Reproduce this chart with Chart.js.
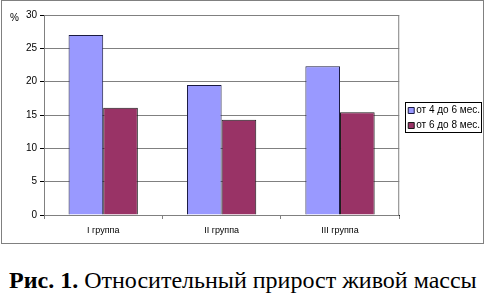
<!DOCTYPE html>
<html>
<head>
<meta charset="utf-8">
<script src="https://cdn.jsdelivr.net/npm/chart.js@4.4.1/dist/chart.umd.min.js"></script>
<style>
  body { margin: 0; background: #fff; width: 485px; height: 294px; position: relative; overflow: hidden; }
  #wrap { position: absolute; left: 0; top: 0; width: 485px; height: 246px; }
  #frame { position: absolute; left: 1px; top: 0; width: 481px; height: 242px; border: 1px solid #808080; pointer-events: none; }
  #caption { position: absolute; left: 9px; top: 268px; line-height: 24px; font-family: "Liberation Serif", "Times New Roman", serif; font-size: 24px; color: #000; white-space: nowrap; }
</style>
</head>
<body>
<div id="wrap"><canvas id="myBarChart"></canvas></div>
<div id="frame"></div>
<div id="caption"><b>Рис. 1.</b> Относительный прирост живой массы</div>
<script>
// data
var groups = ['I группа', 'II группа', 'III группа'];
var seriesNames = ['от 4 до 6 мес.', 'от 6 до 8 мес.'];
var gain4to6 = [27.0, 19.5, 22.3];
var gain6to8 = [16.1, 14.3, 15.4];
var yTicks = [0, 5, 10, 15, 20, 25, 30];

var LEGEND_PAD = 5;

// plot frame, "%" label, legend placement + border
var extrasPlugin = {
     id: 'extras',
     afterLayout: function (chart) {
          // move the legend items next to the plot, text right-aligned inside the box
          var lg = chart.legend, a = chart.chartArea;
          lg.left = a.right + 9 - LEGEND_PAD;
          lg.right = 480;
          lg.top = a.top + 6;
          lg.bottom = a.bottom;
     },
     beforeDatasetsDraw: function (chart) {
          var ctx = chart.ctx, a = chart.chartArea;
          ctx.save();
          ctx.strokeStyle = '#808080';
          ctx.lineWidth = 1;
          ctx.strokeRect(a.left + 0.5, a.top + 0.5, a.right - a.left - 1, a.bottom - a.top);
          ctx.restore();
     },
     afterDraw: function (chart) {
          var ctx = chart.ctx, a = chart.chartArea;
          ctx.save();
          ctx.fillStyle = '#000';
          ctx.font = '10px "Liberation Sans", Arial, sans-serif';
          ctx.textBaseline = 'middle';
          ctx.fillText('%', 10, a.top + 3);
          // legend border
          var boxes = chart.legend.legendHitBoxes;
          if (boxes && boxes.length) {
               var first = boxes[0], last = boxes[boxes.length - 1];
               var left = Math.round(first.left) - 2.5;
               var top = Math.round(first.top) - 3.5;
               var bottom = Math.round(last.top + last.height) + 1.5;
               ctx.strokeStyle = '#000';
               ctx.lineWidth = 1;
               ctx.strokeRect(left, top, 481.5 - left, bottom - top);
          }
          ctx.restore();
     }
};

function createGainBarChart() {
     var ctxB = document.getElementById('myBarChart').getContext('2d');
     window.myBarChart = new Chart(ctxB, {
          type: 'bar',
          data: {
               labels: groups,
               datasets: [{
                    label: seriesNames[0],
                    data: gain4to6,
                    backgroundColor: '#9999ff',
                    borderColor: '#1a1a40',
                    borderWidth: 1,
                    borderSkipped: 'bottom'
               }, {
                    label: seriesNames[1],
                    data: gain6to8,
                    backgroundColor: '#993366',
                    borderColor: '#1a1a1a',
                    borderWidth: 1,
                    borderSkipped: 'bottom'
               }]
          },
          options: {
               responsive: true,
               maintainAspectRatio: false,
               animation: false,
               datasets: {
                    bar: { barPercentage: 1.0, categoryPercentage: 0.585 }
               },
               layout: { padding: { top: 15, right: -4, bottom: 0, left: 0 } },
               scales: {
                    y: {
                         min: 0,
                         max: 30,
                         afterBuildTicks: function (scale) {
                              scale.ticks = yTicks.map(function (v) { return { value: v }; });
                         },
                         afterFit: function (scale) { scale.width = 44; },
                         grid: {
                              color: '#808080',
                              tickColor: '#000',
                              tickLength: 4
                         },
                         border: { color: '#000' },
                         ticks: {
                              color: '#000',
                              padding: 3,
                              font: { family: '"Liberation Sans", Arial, sans-serif', size: 10 }
                         }
                    },
                    x: {
                         afterFit: function (scale) { scale.height = 31; },
                         grid: {
                              drawOnChartArea: false,
                              offset: true,
                              tickColor: '#808080',
                              tickLength: 4
                         },
                         border: { color: '#000' },
                         ticks: {
                              color: '#000',
                              padding: 6,
                              font: { family: '"Liberation Sans", Arial, sans-serif', size: 9 }
                         }
                    }
               },
               plugins: {
                    tooltip: { enabled: false },
                    legend: {
                         position: 'right',
                         labels: {
                              color: '#000',
                              boxWidth: 6,
                              boxHeight: 6,
                              padding: LEGEND_PAD,
                              textAlign: 'right',
                              font: { family: '"Liberation Sans", Arial, sans-serif', size: 10 }
                         }
                    }
               }
          },
          plugins: [extrasPlugin]
     });
}

createGainBarChart();
</script>
</body>
</html>
